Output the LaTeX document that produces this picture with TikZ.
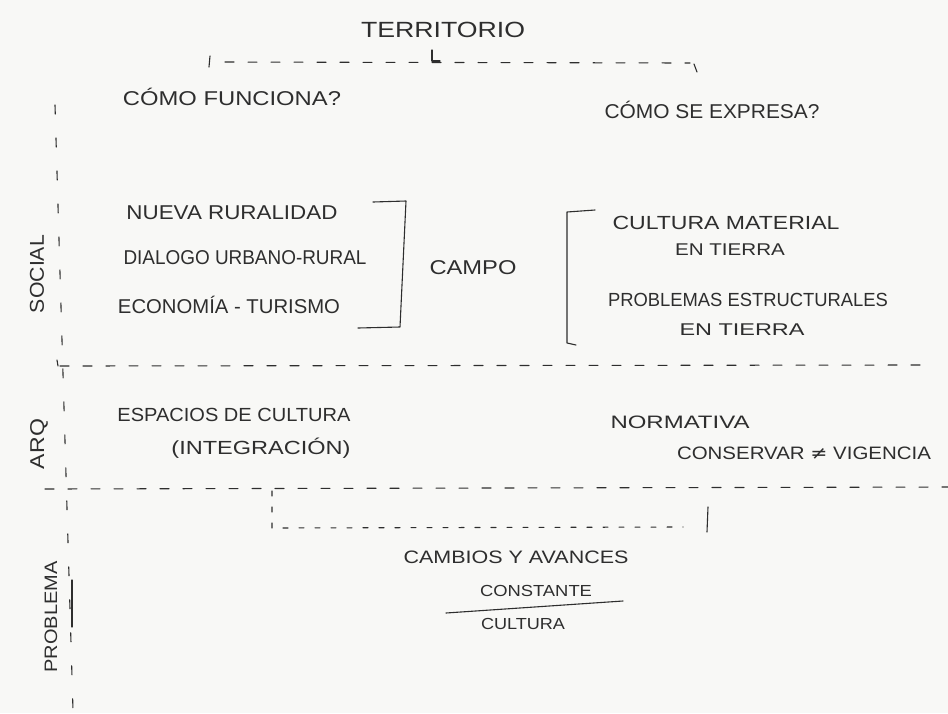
\documentclass[tikz,border=0pt]{standalone}
\usepackage{fontspec}
\usepackage{graphicx}
\setmainfont{Liberation Sans}
\newfontfamily\symfont{DejaVu Sans}
\definecolor{ink}{HTML}{2E2E2E}
\definecolor{paper}{HTML}{F8F8F6}
\newcommand{\hw}[3][20]{\resizebox{#2pt}{\height}{\fontsize{#1}{#1}\selectfont #3}}
\tikzset{
  lbl/.style={inner sep=0pt, text=ink, anchor=center},
  pen/.style={draw=ink, line width=1.1pt, line cap=round, line join=round},
  dashline/.style={pen, dash pattern=on 9pt off 14pt},
  vdash/.style={pen, dash pattern=on 9pt off 24pt},
  dotline/.style={pen, dash pattern=on 5pt off 11pt},
}
\begin{document}
\begin{tikzpicture}[x=1pt,y=-1pt]
\fill[paper] (0,0) rectangle (948,713);
\useasboundingbox (0,0) rectangle (948,713);

% ---- texts ----
\node[lbl] (terr) at (443,30) {\hw[22]{164}{TERRITORIO}};
\node[lbl] (func) at (232,97) {\hw{218}{CÓMO FUNCIONA?}};
\node[lbl] (expr) at (712,110) {\hw{215}{CÓMO SE EXPRESA?}};

\node[lbl] (nueva) at (232,213) {\hw{211}{NUEVA RURALIDAD}};
\node[lbl] (dialogo) at (245,258) {\hw{243}{DIALOGO URBANO-RURAL}};
\node[lbl] (econ) at (229,305) {\hw{222}{ECONOMÍA - TURISMO}};
\node[lbl] (campo) at (473,268) {\hw{87}{CAMPO}};
\node[lbl] (cultmat) at (726,223) {\hw[19]{227}{CULTURA MATERIAL}};
\node[lbl] (entierra1) at (730,250) {\hw[17]{110}{EN TIERRA}};
\node[lbl] (probest) at (748,300) {\hw[19]{280}{PROBLEMAS ESTRUCTURALES}};
\node[lbl] (entierra2) at (742,330) {\hw[17]{125}{EN TIERRA}};

\node[lbl] (espacios) at (234,415) {\hw[19]{233}{ESPACIOS DE CULTURA}};
\node[lbl] (integ) at (261,448) {\hw[19]{179}{(INTEGRACIÓN)}};
\node[lbl] (norma) at (680,422) {\hw[18]{139}{NORMATIVA}};
\node[lbl] (conserv) at (804,453) {\hw[18]{254}{CONSERVAR {\symfont ≠} VIGENCIA}};

\node[lbl] (cambios) at (516,557) {\hw[18]{225}{CAMBIOS Y AVANCES}};
\node[lbl] (constante) at (536,591) {\hw[16]{112}{CONSTANTE}};
\node[lbl] (cultura) at (523,624) {\hw[16]{84}{CULTURA}};

\node[lbl, rotate=90] (social) at (37,274) {\hw{78}{SOCIAL}};
\node[lbl, rotate=90] (arq) at (39,444) {\hw{50}{ARQ}};
\node[lbl, rotate=90] (problema) at (51,617) {\hw[18]{111}{PROBLEMA}};

% ---- top dashed line under TERRITORIO ----
\coordinate (tl) at (225,62);
\coordinate (tr) at (690,63);
\draw[dashline] (tl) -- (tr);
\draw[pen] (210,56) -- (209,67);
\draw[pen] (432,50) -- (432,61) -- (440,61);
\draw[pen] (694,64) -- (697,72);

% ---- left vertical dashed line ----
\coordinate (vt) at (55,105);
\coordinate (vb) at (73,710);
\draw[vdash] (vt) -- (vb);
\draw[pen] (72,580) -- (72,627);

% ---- horizontal separators ----
\coordinate (h1l) at (60,366);
\coordinate (h1r) at (920,365);
\draw[dashline] (h1l) -- (h1r);
\draw[pen] (57,360) -- (58,366);
\coordinate (h2l) at (45,489);
\coordinate (h2r) at (948,487);
\draw[dashline] (h2l) -- (h2r);

% ---- small open box below ----
\coordinate (b1) at (272,491);
\coordinate (b2) at (272,528);
\coordinate (b3) at (683,527);
\draw[dotline] (b1) -- (b2) -- (b3);
\draw[pen] (708,507) -- (707,532);

% ---- brackets ----
\draw[pen] (373,202) -- (406,201) -- (400,327) -- (358,328);
\draw[pen] (595,210) -- (567,212) -- (567,343) -- (576,345);

% ---- fraction line ----
\coordinate (fl) at (446,613);
\coordinate (fr) at (623,601);
\draw[pen] (fl) -- (fr);
\end{tikzpicture}
\end{document}
